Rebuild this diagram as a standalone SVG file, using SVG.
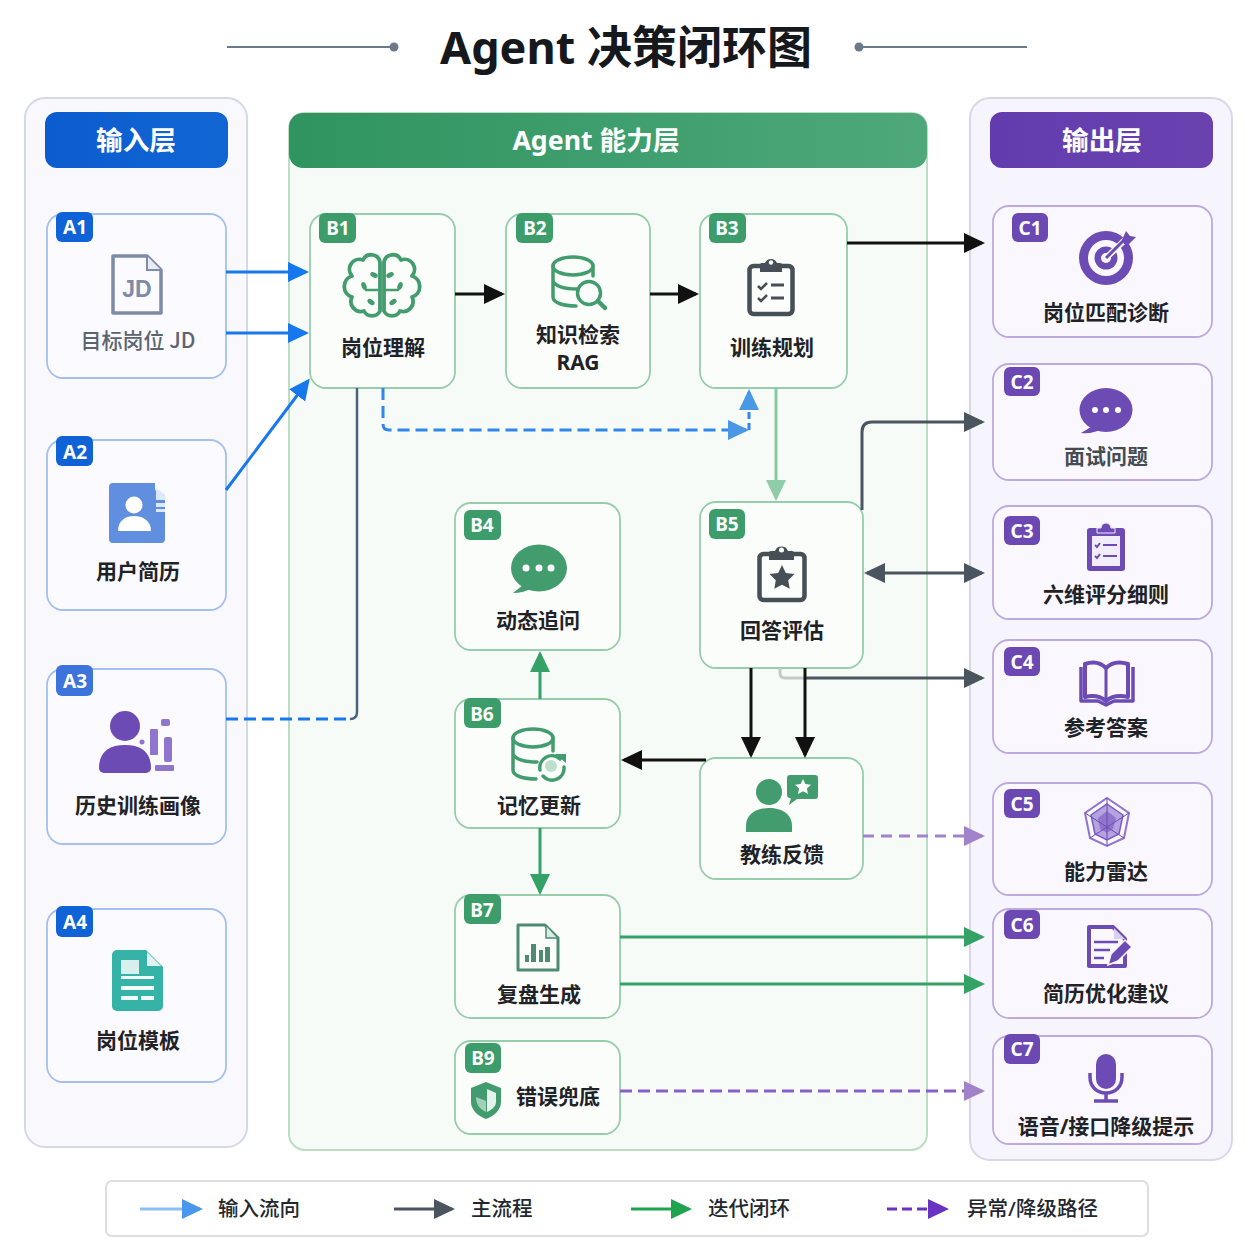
<svg xmlns="http://www.w3.org/2000/svg" width="1254" height="1254" viewBox="0 0 1254 1254">
<style>
text{font-family:"Noto Sans","Noto Sans CJK SC",sans-serif;text-anchor:middle}
.lb{font-size:21px;font-weight:700;fill:#1f2226}
.gy{font-size:21px;font-weight:500;fill:#5c6470;font-family:"Noto Sans CJK SC",sans-serif}
.gd{font-size:21px;font-weight:700;fill:#444c54}
.bd{font-size:19px;font-weight:700;fill:#fff}
.hd{font-size:26.700px;font-weight:700;fill:#fff}
.lg{font-size:20.500px;font-weight:500;fill:#22272e;text-anchor:start}
.na{fill:#fafaff;stroke:#a3c0ee;stroke-width:1.800}
.nb{fill:#fbfdfb;stroke:#98cdac;stroke-width:1.800}
.nc{fill:#faf8fe;stroke:#bcaade;stroke-width:1.800}
.ba{fill:#0f63d6}.bb{fill:#3c9c6a}.bc{fill:#6c48b2}
.c{fill:none;stroke-width:3}
.blue{stroke:#1678ec}.dark{stroke:#4a5560}.blk{stroke:#111}.lgr{stroke:#88c9a2}.grn{stroke:#34a266}.pur{stroke:#8a5fc8}.lpu{stroke:#a083c9}
.ig{fill:#439c6e}.ip{fill:#6c4bb4}
.sg{fill:none;stroke:#439c6e;stroke-width:3.500;stroke-linecap:round;stroke-linejoin:round}
.sd{fill:none;stroke:#454f55;stroke-width:4.500;stroke-linejoin:round}
</style>
<defs>
<linearGradient id="gGreen" x1="0" y1="0" x2="1" y2="0"><stop offset="0" stop-color="#2f9460"/><stop offset="1" stop-color="#4ea87a"/></linearGradient>
<linearGradient id="gBlue" x1="0" y1="0" x2="1" y2="0"><stop offset="0" stop-color="#0b5ccf"/><stop offset="1" stop-color="#1266d4"/></linearGradient>
<linearGradient id="gPurple" x1="0" y1="0" x2="1" y2="0"><stop offset="0" stop-color="#623cae"/><stop offset="1" stop-color="#6a42b0"/></linearGradient>
<marker id="mBlue" markerUnits="userSpaceOnUse" markerWidth="24" markerHeight="24" refX="18" refY="10" orient="auto-start-reverse"><path d="M0 0L21 10L0 20L0 0Z" fill="#1678ec"/></marker>
<marker id="mLb" markerUnits="userSpaceOnUse" markerWidth="24" markerHeight="24" refX="18" refY="10" orient="auto-start-reverse"><path d="M0 0L21 10L0 20L0 0Z" fill="#4a97e6"/></marker>
<marker id="mDark" markerUnits="userSpaceOnUse" markerWidth="24" markerHeight="24" refX="18" refY="10" orient="auto-start-reverse"><path d="M0 0L21 10L0 20L0 0Z" fill="#4a5560"/></marker>
<marker id="mBlk" markerUnits="userSpaceOnUse" markerWidth="24" markerHeight="24" refX="18" refY="10" orient="auto-start-reverse"><path d="M0 0L21 10L0 20L0 0Z" fill="#111"/></marker>
<marker id="mLgr" markerUnits="userSpaceOnUse" markerWidth="24" markerHeight="24" refX="18" refY="10" orient="auto-start-reverse"><path d="M0 0L21 10L0 20L0 0Z" fill="#8fcca8"/></marker>
<marker id="mGrn" markerUnits="userSpaceOnUse" markerWidth="24" markerHeight="24" refX="18" refY="10" orient="auto-start-reverse"><path d="M0 0L21 10L0 20L0 0Z" fill="#34a266"/></marker>
<marker id="mLgn" markerUnits="userSpaceOnUse" markerWidth="24" markerHeight="24" refX="18" refY="10" orient="auto-start-reverse"><path d="M0 0L21 10L0 20L0 0Z" fill="#1fa350"/></marker>
<marker id="mPur" markerUnits="userSpaceOnUse" markerWidth="24" markerHeight="24" refX="18" refY="10" orient="auto-start-reverse"><path d="M0 0L21 10L0 20L0 0Z" fill="#6a32c4"/></marker>
<marker id="mLpu" markerUnits="userSpaceOnUse" markerWidth="24" markerHeight="24" refX="18" refY="10" orient="auto-start-reverse"><path d="M0 0L21 10L0 20L0 0Z" fill="#a083c9"/></marker>
<marker id="mLbl" markerUnits="userSpaceOnUse" markerWidth="24" markerHeight="24" refX="18" refY="10" orient="auto-start-reverse"><path d="M0 0L21 10L0 20L0 0Z" fill="#4a97ee"/></marker>
<g id="brainHalf"><path class="sg" style="stroke-width:3.800" d="M380 311V262A9 9 0 0 0 363 260A10 10 0 0 0 352 276A11 11 0 0 0 352 297A10 10 0 0 0 364 311A9 9 0 0 0 380 311Z"/><path class="sg" d="M380 290H366" style="stroke-width:2.500"/><ellipse cx="374" cy="275" rx="4" ry="2.500" class="ig" transform="rotate(25 374 275)"/><ellipse cx="364" cy="286" rx="2.500" ry="4" class="ig" transform="rotate(-20 364 286)"/><ellipse cx="371" cy="302" rx="4" ry="2.500" class="ig" transform="rotate(35 371 302)"/></g>
</defs>
<rect width="1254" height="1254" fill="#fff"/>
<g id="title">
<line x1="227" y1="47" x2="394" y2="47" stroke="#6b7a8a" stroke-width="2"/><circle cx="394" cy="47" r="4.500" fill="#6b7a8a"/>
<line x1="859" y1="47" x2="1027" y2="47" stroke="#6b7a8a" stroke-width="2"/><circle cx="859" cy="47" r="4.500" fill="#6b7a8a"/>
<text x="626" y="64" font-size="45" font-weight="700" fill="#15181c">Agent 决策闭环图</text>
</g>
<g id="panel-input">
<rect x="25" y="98" width="222" height="1049" rx="20" fill="#f8f8fd" stroke="#d5d9e6" stroke-width="2"/>
<rect x="45" y="112" width="183" height="56" rx="12" fill="url(#gBlue)"/>
<text class="hd" x="136" y="150">输入层</text>
</g>
<g id="panel-agent">
<rect x="289" y="113" width="638" height="1037" rx="16" fill="#f6fbf7" stroke="#bcdcc4" stroke-width="2"/>
<rect x="289" y="113" width="638" height="55" rx="14" fill="url(#gGreen)"/>
<text class="hd" x="596" y="150">Agent 能力层</text>
</g>
<g id="panel-output">
<rect x="970" y="98" width="262" height="1062" rx="20" fill="#f6f4fc" stroke="#d9d6e8" stroke-width="2"/>
<rect x="990" y="112" width="223" height="56" rx="12" fill="url(#gPurple)"/>
<text class="hd" x="1102" y="150">输出层</text>
</g>

<g id="A1"><rect class="na" x="47" y="214" width="179" height="164" rx="16"/><rect class="ba" x="56" y="212" width="37" height="30" rx="6"/><text class="bd" x="75" y="234">A1</text>
<path d="M113 256H147L161 270V313H113Z" fill="#fbfbff" stroke="#7d8ba6" stroke-width="3.500" stroke-linejoin="round"/><path d="M147 256V270H161" fill="#e8ebf3" stroke="#7d8ba6" stroke-width="2"/>
<text x="137" y="297" font-size="23" font-weight="700" fill="#7d8ba6" style="font-family:'Liberation Sans',sans-serif">JD</text>
<text class="gy" x="138" y="348">目标岗位 JD</text></g>

<g id="A2"><rect class="na" x="47" y="440" width="179" height="170" rx="16"/><rect class="ba" x="56" y="436" width="37" height="30" rx="6"/><text class="bd" x="75" y="459">A2</text>
<path d="M113 483H155V490L165 495V539a4 4 0 0 1-4 4H113a4 4 0 0 1-4-4V487a4 4 0 0 1 4-4Z" fill="#608fe0"/>
<circle cx="134" cy="505" r="8.500" fill="#fff"/><path d="M118 531c0-11 8-15 16-15s17 4 17 15Z" fill="#fff"/>
<path d="M156 488l9 7v5h-9ZM156 503h9v4h-9ZM156 509h9v3h-9Z" fill="#dce7f8"/>
<text class="lb" x="138" y="579">用户简历</text></g>

<g id="A3"><rect class="na" x="47" y="669" width="179" height="175" rx="16"/><rect class="ba" x="56" y="665" width="37" height="31" rx="6" style="fill:#3c74dc"/><text class="bd" x="75" y="688">A3</text>
<circle cx="125" cy="726" r="15" class="ip"/><path d="M99 768c0-16 10-23 26-23s26 7 26 23a5 5 0 0 1-5 5H104a5 5 0 0 1-5-5Z" class="ip"/>
<g fill="#8f75cd"><rect x="150" y="729" width="8" height="26" rx="1"/><rect x="164" y="737" width="8" height="25" rx="2"/><rect x="161" y="719" width="9" height="7" rx="2"/><rect x="155" y="765" width="19" height="6" rx="1"/><circle cx="142" cy="742" r="2.500"/></g>
<text class="lb" x="138" y="813">历史训练画像</text></g>

<g id="A4"><rect class="na" x="47" y="909" width="179" height="173" rx="16"/><rect class="ba" x="56" y="906" width="37" height="31" rx="6"/><text class="bd" x="75" y="929">A4</text>
<path d="M117 950H146L163 967V1006a5 5 0 0 1-5 5H117a5 5 0 0 1-5-5V955a5 5 0 0 1 5-5Z" fill="#35b3a6"/><path d="M147 952L161 966H147Z" fill="#e3f5f3"/>
<path d="M121 960H139V974H121Z" fill="#d8f0ed"/><path d="M121 976H154V979H121ZM121 986H154V990H121ZM121 996H138V1000H121ZM141 996H154V1000H141Z" fill="#f2fbfa"/>
<text class="lb" x="138" y="1048">岗位模板</text></g>

<g id="B1"><rect class="nb" x="310" y="214" width="145" height="174" rx="16"/><rect class="bb" x="319" y="213" width="37" height="30" rx="6"/><text class="bd" x="338" y="235">B1</text>
<use href="#brainHalf"/><use href="#brainHalf" transform="translate(764 0) scale(-1 1)"/>
<text class="lb" x="383" y="355">岗位理解</text></g>

<g id="B2"><rect class="nb" x="506" y="214" width="144" height="174" rx="16"/><rect class="bb" x="516" y="213" width="37" height="30" rx="6"/><text class="bd" x="535" y="235">B2</text>
<ellipse class="sg" cx="573" cy="266" rx="20" ry="9"/><path class="sg" d="M553 266V297C553 303 564 306 576 306M593 266V276M553 281C556 287 566 289 577 289"/><circle class="sg" cx="589" cy="293" r="11.500"/><path class="sg" d="M598 301L605 308" style="stroke-width:4.500"/>
<text class="lb" x="578" y="342">知识检索</text><text class="lb" x="578" y="370">RAG</text></g>

<g id="B3"><rect class="nb" x="700" y="214" width="147" height="174" rx="16"/><rect class="bb" x="709" y="213" width="37" height="30" rx="6"/><text class="bd" x="727" y="235">B3</text>
<rect class="sd" x="749.500" y="266" width="43" height="48" rx="4"/><path d="M760 272V265a2 2 0 0 1 2-2H765a6.500 6.500 0 0 1 12 0H780a2 2 0 0 1 2 2V272Z" fill="#454f55"/><circle cx="771" cy="262.500" r="2.200" fill="#fff"/>
<path d="M758 286l3 3 6-6M758 298l3 3 6-6" fill="none" stroke="#454f55" stroke-width="2.500"/><path d="M771 285H784M771 298H784" stroke="#454f55" stroke-width="3"/>
<text class="lb" x="772" y="355">训练规划</text></g>

<g id="B4"><rect class="nb" x="455" y="503" width="165" height="147" rx="16"/><rect class="bb" x="464" y="510" width="37" height="30" rx="6"/><text class="bd" x="482" y="532">B4</text>
<ellipse cx="539" cy="568" rx="28" ry="23.500" class="ig"/><path d="M523 585L513 593C520 593 527 591 533 588Z" class="ig"/><circle cx="526" cy="568" r="3.500" fill="#fff"/><circle cx="539" cy="568" r="3.500" fill="#fff"/><circle cx="551" cy="568" r="3.500" fill="#fff"/>
<text class="lb" x="538" y="628">动态追问</text></g>

<g id="B5"><rect class="nb" x="700" y="502" width="163" height="166" rx="16"/><rect class="bb" x="709" y="509" width="36" height="30" rx="6"/><text class="bd" x="727" y="531">B5</text>
<rect class="sd" x="759.500" y="554" width="45" height="46" rx="4"/><path d="M769 560V553a2 2 0 0 1 2-2H775a7 7 0 0 1 13 0H792a2 2 0 0 1 2 2V560Z" fill="#454f55"/><circle cx="781.500" cy="550" r="2.500" fill="#fff"/>
<path d="M782 565l3.800 7.900 8.700 1.200-6.300 6.100 1.500 8.600-7.700-4.100-7.700 4.100 1.500-8.600-6.300-6.100 8.700-1.200Z" fill="#454f55"/>
<text class="lb" x="782" y="638">回答评估</text></g>

<g id="B6"><rect class="nb" x="455" y="699" width="165" height="129" rx="16"/><rect class="bb" x="464" y="698" width="37" height="30" rx="6"/><text class="bd" x="482" y="721">B6</text>
<ellipse class="sg" cx="533" cy="738" rx="20" ry="9"/><path class="sg" d="M513 738V770C513 776 524 779 536 779M553 738V751M513 754C516 760 526 762 537 762"/><path class="sg" d="M540 770A12 12 0 0 1 560 759M564 767A12 12 0 0 1 543 776"/><path d="M555 754H566V763Z" class="ig"/><circle cx="551" cy="766" r="6" fill="#bfe0cc"/>
<text class="lb" x="539" y="813">记忆更新</text></g>

<g id="B-coach"><rect class="nb" x="700" y="758" width="163" height="121" rx="16"/>
<circle cx="769" cy="792" r="13" class="ig"/><path d="M746 832V826c0-12 10-18 23-18s23 6 23 18v6Z" class="ig"/>
<path d="M790 775H815a3 3 0 0 1 3 3V796a3 3 0 0 1-3 3H797L789 805L791 798A3 3 0 0 1 787 795V778a3 3 0 0 1 3-3Z" class="ig"/>
<path d="M803 779l2.400 5 5.600.7-4.100 3.800 1.100 5.500-5-2.700-5 2.700 1.100-5.500-4.100-3.800 5.600-.7Z" fill="#fff"/>
<text class="lb" x="782" y="862">教练反馈</text></g>

<g id="B7"><rect class="nb" x="455" y="895" width="165" height="123" rx="16"/><rect class="bb" x="464" y="894" width="37" height="30" rx="6"/><text class="bd" x="482" y="917">B7</text>
<path d="M518 925H545L558 938V970H518Z" fill="#fbfdfb" stroke="#4d8c72" stroke-width="3" stroke-linejoin="round"/><path d="M546 926V938H557" fill="#d9ece1" stroke="#4d8c72" stroke-width="1.500"/>
<path d="M525 962V955H529V962ZM531 962V944H536V962ZM539 962V950H543V962ZM545 962V947H550V962Z" fill="#4d8c72"/>
<text class="lb" x="539" y="1002">复盘生成</text></g>

<g id="B9"><rect class="nb" x="455" y="1041" width="165" height="93" rx="16"/><rect class="bb" x="465" y="1043" width="36" height="30" rx="6"/><text class="bd" x="483" y="1065">B9</text>
<path d="M486 1082L501 1088V1102C501 1110 494 1116 486 1119C478 1116 471 1110 471 1102V1088Z" class="ig"/><path d="M487 1089L496 1093V1102C496 1107 491 1110 487 1112Z" fill="#e6f3ec"/><path d="M476 1097L486 1101V1112C480 1109 476 1105 476 1097Z" fill="#e6f3ec" opacity=".6"/>
<text class="lb" x="558" y="1104">错误兜底</text></g>

<g id="C1"><rect class="nc" x="993" y="206" width="219" height="131" rx="16"/><rect class="bc" x="1012" y="213" width="36" height="29" rx="6"/><text class="bd" x="1030" y="235">C1</text>
<circle cx="1106" cy="258" r="27" class="ip"/><circle cx="1106" cy="258" r="18" fill="#faf8fe"/><circle cx="1106" cy="258" r="11.500" class="ip"/><circle cx="1106" cy="258" r="5" fill="#faf8fe"/>
<path d="M1106 258L1127 238" stroke="#faf8fe" stroke-width="6"/><path d="M1106 258L1126 238" stroke="#6c4bb4" stroke-width="3"/><path d="M1122 240L1126 231L1130 236L1136 237L1129 244L1124 244Z" class="ip"/>
<text class="lb" x="1106" y="320">岗位匹配诊断</text></g>

<g id="C2"><rect class="nc" x="993" y="364" width="219" height="116" rx="16"/><rect class="bc" x="1004" y="367" width="36" height="29" rx="6"/><text class="bd" x="1022" y="389">C2</text>
<ellipse cx="1106" cy="410" rx="26.500" ry="22" class="ip"/><path d="M1091 427L1081 433C1089 434 1096 432 1102 429Z" class="ip"/><circle cx="1095" cy="410" r="3" fill="#fff"/><circle cx="1106" cy="410" r="3" fill="#fff"/><circle cx="1118" cy="410" r="3" fill="#fff"/>
<text class="gd" x="1106" y="464">面试问题</text></g>

<g id="C3"><rect class="nc" x="993" y="506" width="219" height="113" rx="16"/><rect class="bc" x="1004" y="516" width="36" height="29" rx="6"/><text class="bd" x="1022" y="538">C3</text>
<rect x="1087" y="528" width="38" height="43" rx="3" class="ip"/><rect x="1092" y="536" width="28" height="30" fill="#f1edfa"/><path d="M1097 533V528H1101a5 5 0 0 1 10 0H1115V533Z" class="ip" stroke="#f1edfa"/>
<path d="M1095 545l2 2 3-4M1095 556l2 2 3-4M1103 545H1117M1103 556H1117" fill="none" stroke="#6c4bb4" stroke-width="2"/>
<text class="lb" x="1106" y="602">六维评分细则</text></g>

<g id="C4"><rect class="nc" x="993" y="640" width="219" height="113" rx="16"/><rect class="bc" x="1004" y="647" width="36" height="29" rx="6"/><text class="bd" x="1022" y="669">C4</text>
<path d="M1085 664C1094 661 1101 663 1106 668C1111 663 1119 661 1128 664V697C1119 695 1112 696 1106 701C1100 696 1093 695 1085 697Z" fill="#faf8fe" stroke="#6c4bb4" stroke-width="4" stroke-linejoin="round"/><path d="M1106 668V701" stroke="#6c4bb4" stroke-width="3"/><path d="M1081 667V701H1098L1106 705L1114 701H1133V667" fill="none" stroke="#6c4bb4" stroke-width="3.500" stroke-linejoin="round"/>
<text class="lb" x="1106" y="735">参考答案</text></g>

<g id="C5"><rect class="nc" x="993" y="783" width="219" height="112" rx="16"/><rect class="bc" x="1004" y="789" width="36" height="29" rx="6"/><text class="bd" x="1022" y="811">C5</text>
<path d="M1107 798L1129 813L1124 838L1107 846L1090 838L1085 813Z" fill="none" stroke="#8f75cd" stroke-width="2"/><path d="M1107 804L1123 815L1119 834L1107 840L1095 834L1091 815Z" fill="#b5a2de" stroke="#7a5cc0" stroke-width="1.500"/><path d="M1107 811L1116 818L1113 829L1107 833L1100 829L1098 818Z" fill="#8f75cd"/><path d="M1107 798V846M1085 813L1124 838M1129 813L1090 838" stroke="#6c4bb4" stroke-width="1"/>
<text class="lb" x="1106" y="879">能力雷达</text></g>

<g id="C6"><rect class="nc" x="993" y="909" width="219" height="109" rx="16"/><rect class="bc" x="1004" y="910" width="36" height="29" rx="6"/><text class="bd" x="1022" y="932">C6</text>
<path d="M1089 927H1113L1125 939V966H1089Z" fill="#faf8fe" stroke="#6c4bb4" stroke-width="4" stroke-linejoin="round"/><path d="M1114 928V939H1125" fill="#d9d0ef"/><path d="M1094 942H1118M1094 950H1110M1094 958H1104" stroke="#6c4bb4" stroke-width="2.500"/>
<path d="M1108 965L1111 954L1125 940L1132 947L1118 961Z" class="ip" stroke="#faf8fe" stroke-width="1.500"/>
<text class="lb" x="1106" y="1001">简历优化建议</text></g>

<g id="C7"><rect class="nc" x="993" y="1036" width="219" height="108" rx="16"/><rect class="bc" x="1004" y="1034" width="36" height="30" rx="6"/><text class="bd" x="1022" y="1056">C7</text>
<rect x="1096" y="1054" width="20" height="35" rx="10" class="ip"/><path d="M1090 1073V1077C1090 1087 1097 1093 1106 1093C1115 1093 1122 1087 1122 1077V1073" fill="none" stroke="#6c4bb4" stroke-width="3.500"/><path d="M1106 1093V1100M1094 1101H1118" stroke="#6c4bb4" stroke-width="3.500"/>
<text class="lb" x="1106" y="1134">语音/接口降级提示</text></g>

<g id="connectors">
<path class="c blue" d="M226 272H306" marker-end="url(#mBlue)"/>
<path class="c blue" d="M226 333H306" marker-end="url(#mBlue)"/>
<path class="c blue" d="M226 490L308 381" marker-end="url(#mBlue)"/>
<path class="c blue" d="M226 719H350" stroke-dasharray="12 6"/>
<path class="c" d="M350 719Q357 719 357 712V388" style="stroke:#4a6180;stroke-width:2.500"/>
<path class="c" style="stroke:#2f86ec" d="M383 388V424Q383 430 389 430H746" stroke-dasharray="12 6" marker-end="url(#mLb)"/>
<path class="c" style="stroke:#2f86ec" d="M749 430V392" stroke-dasharray="7 4" marker-end="url(#mLb)"/>
<path class="c blk" d="M455 294H502" marker-end="url(#mBlk)"/>
<path class="c blk" d="M650 294H696" marker-end="url(#mBlk)"/>
<path class="c blk" d="M847 243H982" marker-end="url(#mBlk)"/>
<path class="c lgr" d="M776 388V498" marker-end="url(#mLgr)"/>
<path class="c dark" d="M862 510V432Q862 422 872 422H982" marker-end="url(#mDark)"/>
<path class="c dark" d="M867 573H982" marker-start="url(#mDark)" marker-end="url(#mDark)"/>
<path class="c" style="stroke:#c2cbc6" d="M780 668V673Q780 678 785 678H805"/>
<path class="c dark" d="M805 678H982" marker-end="url(#mDark)"/>
<path class="c blk" d="M751 668V755" marker-end="url(#mBlk)"/>
<path class="c blk" d="M805 668V755" marker-end="url(#mBlk)"/>
<path class="c blk" d="M706 760H624" marker-end="url(#mBlk)"/>
<path class="c grn" d="M540 699V654" marker-end="url(#mGrn)"/>
<path class="c grn" d="M540 828V892" marker-end="url(#mGrn)"/>
<path class="c lpu" d="M863 836H982" stroke-dasharray="11 7" marker-end="url(#mLpu)"/>
<path class="c grn" d="M620 937H982" marker-end="url(#mGrn)"/>
<path class="c grn" d="M620 984H982" marker-end="url(#mGrn)"/>
<path class="c pur" d="M620 1091H982" stroke-dasharray="12 6" marker-end="url(#mLpu)"/>
</g>

<g id="legend">
<rect x="106" y="1181" width="1042" height="55" rx="6" fill="#fff" stroke="#dcdee2" stroke-width="2"/>
<path class="c" style="stroke:#8cc0f4" d="M140 1209H200" marker-end="url(#mLbl)"/><text class="lg" x="218" y="1216">输入流向</text>
<path class="c dark" d="M394 1209H452" marker-end="url(#mDark)"/><text class="lg" x="471" y="1216">主流程</text>
<path class="c" style="stroke:#1fa350" d="M631 1209H689" marker-end="url(#mLgn)"/><text class="lg" x="708" y="1216">迭代闭环</text>
<path class="c" style="stroke:#6a32c4" d="M887 1209H946" stroke-dasharray="10 5" marker-end="url(#mPur)"/><text class="lg" x="967" y="1216">异常/降级路径</text>
</g>
</svg>
